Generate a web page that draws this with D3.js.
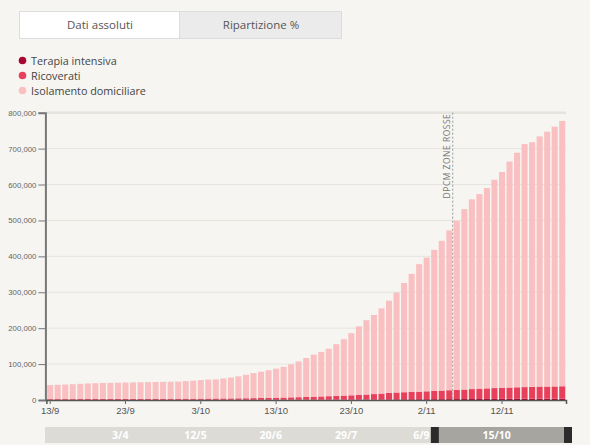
<!DOCTYPE html>
<html>
<head>
<meta charset="utf-8">
<script src="https://cdn.jsdelivr.net/npm/d3@7"></script>
<style>
  html, body { margin: 0; padding: 0; background: #f6f5f1; }
  svg { display: block; font-family: "Open Sans", "DejaVu Sans", sans-serif; }
</style>
</head>
<body>
<svg id="chart" width="590" height="445"></svg>
<script>
// Giorni (dal 13 settembre al 20 novembre 2020)
const days = [
  "2020-09-13","2020-09-14","2020-09-15","2020-09-16","2020-09-17","2020-09-18","2020-09-19","2020-09-20","2020-09-21","2020-09-22",
  "2020-09-23","2020-09-24","2020-09-25","2020-09-26","2020-09-27","2020-09-28","2020-09-29","2020-09-30",
  "2020-10-01","2020-10-02","2020-10-03","2020-10-04","2020-10-05","2020-10-06","2020-10-07","2020-10-08","2020-10-09","2020-10-10",
  "2020-10-11","2020-10-12","2020-10-13","2020-10-14","2020-10-15","2020-10-16","2020-10-17","2020-10-18","2020-10-19","2020-10-20",
  "2020-10-21","2020-10-22","2020-10-23","2020-10-24","2020-10-25","2020-10-26","2020-10-27","2020-10-28","2020-10-29","2020-10-30","2020-10-31",
  "2020-11-01","2020-11-02","2020-11-03","2020-11-04","2020-11-05","2020-11-06","2020-11-07","2020-11-08","2020-11-09","2020-11-10",
  "2020-11-11","2020-11-12","2020-11-13","2020-11-14","2020-11-15","2020-11-16","2020-11-17","2020-11-18","2020-11-19","2020-11-20"
];

const terapiaIntensiva = [
  182, 201, 207, 208, 201, 215, 222, 229, 239, 244, 239, 246, 244, 247, 254, 271, 280, 291,
  297, 303, 319, 323, 337, 358, 362, 387, 390, 420, 452, 514, 539, 586, 638, 705, 750, 797, 870, 926,
  992, 1049, 1128, 1208, 1284, 1411, 1536, 1651, 1746, 1843, 1939,
  2022, 2115, 2225, 2292, 2391, 2515, 2634, 2749, 2849, 2971, 3081, 3170, 3230, 3306, 3422, 3492, 3612, 3670, 3712, 3748
];

const ricoverati = [
  2222, 2285, 2380, 2395, 2474, 2537, 2604, 2658, 2746, 2782, 2846, 2896, 2951, 3048, 3097, 3204, 3287, 3337,
  3343, 3417, 3487, 3625, 3782, 3925, 4086, 4336, 4519, 4821, 5076, 5470, 5796, 6178, 6718, 7131, 7676, 8454, 9057, 9694,
  10549, 11287, 12006, 12997, 13955, 15094, 16320, 17953, 19131, 19840, 20560,
  21114, 22116, 22946, 24005, 24907, 25578, 26440, 27675, 28633, 29444, 30081, 30914, 31398, 32047, 32536, 33074, 33610, 33684, 34063, 34577
];

const isolamento = [
  39009, 39971, 40574, 41495, 42404, 43362, 43954, 44513, 44915, 45174, 45515, 45858, 46205, 46505, 46949, 47155, 47433, 47632,
  49010, 50280, 51764, 52732, 53311, 55847, 58132, 61227, 65201, 69589, 73092, 76776, 80855, 85686, 91914, 99474, 108514, 116989, 124073, 132120,
  143899, 156964, 172866, 190795, 207001, 220175, 237234, 256856, 278313, 304107, 328891,
  354994, 372279, 392969, 416943, 445052, 471027, 502466, 528216, 541758, 557695, 580198, 600966, 629302, 653087, 676542, 681234, 696878, 709646, 723425, 738875
];

const seriesNames = ["Terapia intensiva", "Ricoverati", "Isolamento domiciliare"];
const seriesColors = ["#a90532", "#e8405b", "#f9bfc1"];

const yTicks = [0, 100000, 200000, 300000, 400000, 500000, 600000, 700000, 800000];
const xTickDays = ["2020-09-13","2020-09-23","2020-10-03","2020-10-13","2020-10-23","2020-11-02","2020-11-12"];

// Intervallo completo del selettore temporale e sue etichette
const fullRange = ["2020-02-24", "2020-11-21"];
const brushTicks = ["2020-04-03","2020-05-12","2020-06-20","2020-07-29","2020-09-06","2020-10-15"];
const selection = ["2020-09-13", "2020-11-21"];

const annotationDay = "2020-11-06";
const annotationText = "DPCM ZONE ROSSE";

const buttons = ["Dati assoluti", "Ripartizione %"];

// --- disegno ---
const svg = d3.select("#chart");
const parse = d3.utcParse("%Y-%m-%d");
const fmtDay = d3.utcFormat("%-d/%-m");

const plot = { left: 46.4, right: 566, top: 112.7, bottom: 400 };

const x = d3.scaleBand().domain(days).range([plot.left, plot.right]).paddingInner(0.2).paddingOuter(0.1);
const y = d3.scaleLinear().domain([0, 800000]).range([plot.bottom, plot.top]);

// pulsanti
const btn = svg.append("g");
btn.append("rect").attr("x", 19.5).attr("y", 11.5).attr("width", 322).attr("height", 27)
  .attr("fill", "#ebebeb").attr("stroke", "#dcdcdc");
btn.append("rect").attr("x", 19.5).attr("y", 11.5).attr("width", 160).attr("height", 27)
  .attr("fill", "#ffffff").attr("stroke", "#dcdcdc");
btn.selectAll("text").data(buttons).join("text")
  .attr("x", (d, i) => i === 0 ? 100 : 261).attr("y", 29)
  .attr("text-anchor", "middle").attr("font-size", 11.5).attr("fill", "#555")
  .text(d => d);

// legenda
const leg = svg.append("g");
seriesNames.forEach((name, i) => {
  leg.append("circle").attr("cx", 22.5).attr("cy", 60.5 + i * 15).attr("r", 3.8).attr("fill", seriesColors[i]);
  leg.append("text").attr("x", 31).attr("y", 64.5 + i * 15).attr("font-size", 10.8).attr("fill", "#444").text(name);
});

// griglia
svg.append("g").selectAll("line").data(yTicks.filter(d => d > 0)).join("line")
  .attr("x1", plot.left).attr("x2", plot.right)
  .attr("y1", d => y(d)).attr("y2", d => y(d))
  .attr("stroke", "#e6e4df").attr("stroke-width", d => d === 800000 ? 2.5 : 1);

// barre impilate
const rows = days.map((d, i) => ({ day: d, ti: terapiaIntensiva[i], ric: ricoverati[i], iso: isolamento[i] }));
const stack = d3.stack().keys(["ti", "ric", "iso"])(rows);
svg.append("g").selectAll("g").data(stack).join("g")
  .attr("fill", (d, i) => seriesColors[i])
  .selectAll("rect").data(d => d).join("rect")
  .attr("x", d => x(d.data.day))
  .attr("width", x.bandwidth())
  .attr("y", d => y(d[1]))
  .attr("height", d => y(d[0]) - y(d[1]));

// annotazione
const ax = x(annotationDay) - x.step() * x.paddingInner() / 2 - 0.3;
svg.append("line").attr("x1", ax).attr("x2", ax).attr("y1", plot.top).attr("y2", plot.bottom)
  .attr("stroke", "#9a9a9a").attr("stroke-width", 1).attr("stroke-dasharray", "2,2");
svg.append("text")
  .attr("transform", `translate(${ax - 3},${plot.top + 1}) rotate(-90)`)
  .attr("text-anchor", "end").attr("font-size", 8.5).attr("fill", "#777")
  .attr("letter-spacing", 0.5)
  .text(annotationText);

// asse y
const yAxis = svg.append("g").attr("transform", `translate(${plot.left - 1},0)`)
  .call(d3.axisLeft(y).tickValues(yTicks).tickSize(7).tickPadding(2).tickFormat(d3.format(",")));
yAxis.select(".domain").attr("stroke", "#777").attr("stroke-width", 2);
yAxis.selectAll(".tick line").attr("stroke", "#777");
yAxis.selectAll(".tick text").attr("font-size", 7.8).attr("fill", "#666").attr("font-family", "inherit");

// asse x
const xAxis = svg.append("g").attr("transform", `translate(0,${plot.bottom})`)
  .call(d3.axisBottom(x).tickValues(xTickDays).tickSize(4).tickPadding(3).tickSizeOuter(4)
    .tickFormat(d => fmtDay(parse(d))));
xAxis.select(".domain").attr("stroke", "#555").attr("stroke-width", 1.5);
xAxis.selectAll(".tick line").attr("stroke", "#666");
xAxis.selectAll(".tick text").attr("font-size", 9.5).attr("fill", "#555").attr("font-family", "inherit");

// selettore temporale
const bx = d3.scaleUtc().domain(fullRange.map(parse)).range([45, 568]);
const by = 427, bh = 16;
const brush = svg.append("g");
brush.append("rect").attr("x", 45).attr("y", by).attr("width", 523).attr("height", bh).attr("fill", "#dcdbd6");
const s0 = bx(parse(selection[0])), s1 = bx(parse(selection[1]));
brush.selectAll("text").data(brushTicks).join("text")
  .attr("x", d => bx(parse(d))).attr("y", by + 12)
  .attr("text-anchor", "middle").attr("font-size", 10.5).attr("font-weight", "bold").attr("fill", "#ffffff")
  .text(d => fmtDay(parse(d)));
brush.append("rect").attr("x", s0).attr("y", by).attr("width", s1 - s0).attr("height", bh)
  .attr("fill", "#a6a59f");
brush.append("text").attr("x", bx(parse(brushTicks[5]))).attr("y", by + 12)
  .attr("text-anchor", "middle").attr("font-size", 10.5).attr("font-weight", "bold").attr("fill", "#ffffff")
  .text(fmtDay(parse(brushTicks[5])));
[s0, s1].forEach(s => {
  brush.append("rect").attr("x", s - 4).attr("y", by).attr("width", 8).attr("height", bh).attr("fill", "#2b2b2b");
});
</script>
</body>
</html>
